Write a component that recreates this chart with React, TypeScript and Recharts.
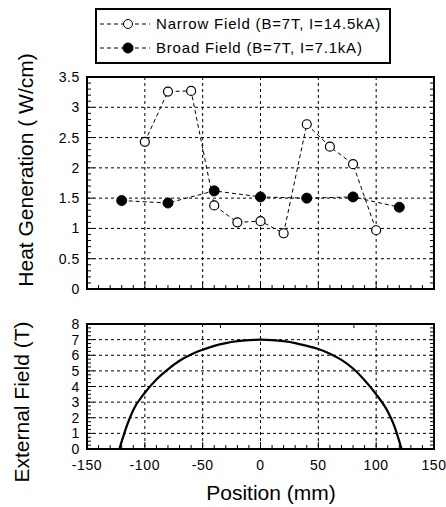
import { LineChart, Line, XAxis, YAxis, CartesianGrid, Legend, ReferenceArea } from "recharts";

const FONT = '"Liberation Sans", Arial, Helvetica, sans-serif';

// positions (mm) and heat generation (W/cm)
const narrowPos = [-100, -80, -60, -40, -20, 0, 20, 40, 60, 80, 100];
const narrowHeat = [2.43, 3.26, 3.27, 1.38, 1.1, 1.12, 0.92, 2.72, 2.35, 2.06, 0.97];
const broadPos = [-120, -80, -40, 0, 40, 80, 120];
const broadHeat = [1.46, 1.42, 1.62, 1.52, 1.5, 1.52, 1.35];

// external field profile (T)
const fieldPos = [-122, -115, -110, -100, -90, -80, -70, -60, -50, -40, -30, -20, -10, 0, 10, 20, 30, 40, 50, 60, 70, 80, 90, 100, 110, 115, 122];
const fieldVal = [0, 1.6, 2.5, 3.6, 4.45, 5.1, 5.65, 6.05, 6.35, 6.6, 6.78, 6.9, 6.97, 7.0, 6.97, 6.9, 6.78, 6.6, 6.4, 6.1, 5.7, 5.15, 4.4, 3.5, 2.4, 1.6, 0];

const posTicks = [-150, -100, -50, 0, 50, 100, 150];
const heatTicks = [0, 0.5, 1, 1.5, 2, 2.5, 3, 3.5];
const fieldTicks = [0, 1, 2, 3, 4, 5, 6, 7, 8];

const narrowData = narrowPos.map((x, i) => ({ x, q: narrowHeat[i] }));
const broadData = broadPos.map((x, i) => ({ x, q: broadHeat[i] }));
const fieldData = fieldPos.map((x, i) => ({ x, b: fieldVal[i] }));

// minor tick positions
const steps = (from: number, to: number, step: number) => {
  const out: number[] = [];
  for (let v = from; v <= to + 1e-9; v += step) out.push(Math.round(v * 1000) / 1000);
  return out;
};
const posMinor = steps(-150, 150, 10);
const heatMinor = steps(0, 3.5, 0.1);
const fieldMinor = steps(0, 8, 0.25);

const tickFont = { fill: "#000", fontSize: 14, fontFamily: FONT, letterSpacing: 0.6 };
const minorLine = { stroke: "#000", strokeWidth: 1 };
const noLabel = () => <g />;

// left axis: inward tick marks, labels only on the major values
const leftTick = (majors: number[]) => (props: any) => {
  const { x, y, payload } = props;
  const edge = x + 7;
  const major = majors.includes(payload.value);
  return (
    <g>
      <line x1={edge} x2={edge + (major ? 7 : 4)} y1={y} y2={y} stroke="#000" />
      {major && (
        <text x={x} y={y} dy="0.36em" textAnchor="end" {...tickFont}>
          {payload.value}
        </text>
      )}
    </g>
  );
};

// bottom axis: inward tick marks, labels optional
const bottomTick = (majors: number[], gap: number, labels: boolean) => (props: any) => {
  const { x, y, payload } = props;
  const edge = y - gap;
  const major = majors.includes(payload.value);
  return (
    <g>
      <line x1={x} x2={x} y1={edge} y2={edge - (major ? 7 : 4)} stroke="#000" />
      {labels && major && (
        <text x={x} y={y} dy="0.71em" textAnchor="middle" {...tickFont}>
          {payload.value}
        </text>
      )}
    </g>
  );
};

const LegendBox = () => (
  <div
    style={{
      border: "2px solid #000",
      background: "#fff",
      padding: "2px 0 2px 1px",
      fontFamily: FONT,
      fontSize: 15,
      letterSpacing: 0.8,
      lineHeight: "24px",
      color: "#000",
      boxSizing: "border-box",
    }}
  >
    <div style={{ display: "flex", alignItems: "center" }}>
      <svg width={54} height={14}>
        <line x1={2} y1={7} x2={52} y2={7} stroke="#000" strokeDasharray="4 3" />
        <circle cx={30} cy={7} r={4.5} fill="#fff" stroke="#000" />
      </svg>
      <span style={{ marginLeft: 4 }}>Narrow Field (B=7T, I=14.5kA)</span>
    </div>
    <div style={{ display: "flex", alignItems: "center" }}>
      <svg width={54} height={14}>
        <line x1={2} y1={7} x2={52} y2={7} stroke="#000" strokeDasharray="4 3" />
        <circle cx={30} cy={7} r={5} fill="#000" stroke="#000" />
      </svg>
      <span style={{ marginLeft: 4 }}>Broad Field (B=7T, I=7.1kA)</span>
    </div>
  </div>
);

const title = (text: string, x: number, y: number, rotate: boolean) => () =>
  (
    <text
      transform={`translate(${x},${y})${rotate ? " rotate(-90)" : ""}`}
      textAnchor="middle"
      fontSize={21}
      fontFamily={FONT}
      fill="#000"
    >
      {text}
    </text>
  );

export default function App() {
  return (
    <div style={{ position: "absolute", left: 0, top: 0, width: 446, height: 507, background: "#fff" }}>
      <div style={{ position: "absolute", left: 0, top: 0 }}>
        <LineChart width={446} height={300} margin={{ top: 77, right: 12, bottom: 10, left: 47 }}>
          <XAxis
            xAxisId="p"
            dataKey="x"
            type="number"
            domain={[-150, 150]}
            ticks={posMinor}
            interval={0}
            height={1}
            tick={bottomTick(posTicks, 4, false)}
            tickSize={4}
            tickMargin={0}
            tickLine={false}
            axisLine={false}
          />
          <XAxis xAxisId="mt" type="number" domain={[-150, 150]} allowDataOverflow ticks={posMinor} interval={0} orientation="top" mirror tick={noLabel} tickSize={4} tickLine={minorLine} axisLine={false} height={1} />
          <YAxis
            yAxisId="h"
            type="number"
            domain={[0, 3.5]}
            ticks={heatMinor}
            interval={0}
            width={40}
            tick={leftTick(heatTicks)}
            tickSize={4}
            tickMargin={3}
            tickLine={false}
            axisLine={false}
            label={{ content: title("Heat Generation ( W/cm)", 33, 170, true) }}
          />
          <YAxis yAxisId="mr" type="number" domain={[0, 3.5]} allowDataOverflow ticks={heatMinor} interval={0} orientation="right" mirror tick={noLabel} tickSize={4} tickLine={minorLine} axisLine={false} width={1} />
          <CartesianGrid
            xAxisId="p"
            yAxisId="h"
            stroke="#000"
            strokeDasharray="3 3"
            horizontalValues={heatTicks}
            verticalValues={posTicks}
          />
          <ReferenceArea xAxisId="p" yAxisId="h" x1={-150} x2={150} y1={0} y2={3.5} fill="none" stroke="#000" strokeWidth={2} />
          <Legend
            layout="horizontal"
            verticalAlign="middle"
            align="center"
            content={() => <LegendBox />}
            wrapperStyle={{ left: 95, top: 8, width: 296, height: 56 }}
          />
          <Line
            xAxisId="p"
            yAxisId="h"
            data={narrowData}
            dataKey="q"
            stroke="#000"
            strokeWidth={1}
            strokeDasharray="4 3"
            dot={{ r: 4.5, fill: "#fff", stroke: "#000", strokeWidth: 1.2, strokeDasharray: "" }}
            isAnimationActive={false}
          />
          <Line
            xAxisId="p"
            yAxisId="h"
            data={broadData}
            dataKey="q"
            stroke="#000"
            strokeWidth={1}
            strokeDasharray="4 3"
            dot={{ r: 5, fill: "#000", stroke: "#000", strokeDasharray: "" }}
            isAnimationActive={false}
          />
        </LineChart>
      </div>
      <div style={{ position: "absolute", left: 0, top: 300 }}>
        <LineChart width={446} height={207} data={fieldData} margin={{ top: 24, right: 12, bottom: 18, left: 47 }}>
          <XAxis
            xAxisId="p"
            dataKey="x"
            type="number"
            domain={[-150, 150]}
            ticks={posMinor}
            interval={0}
            height={40}
            tick={bottomTick(posTicks, 11, true)}
            tickSize={4}
            tickMargin={7}
            tickLine={false}
            axisLine={false}
            label={{ content: title("Position (mm)", 271, 200, false) }}
          />
          <XAxis xAxisId="mt" type="number" domain={[-150, 150]} allowDataOverflow ticks={posMinor} interval={0} orientation="top" mirror tick={noLabel} tickSize={4} tickLine={minorLine} axisLine={false} height={1} />
          <YAxis
            yAxisId="f"
            type="number"
            domain={[0, 8]}
            ticks={fieldMinor}
            interval={0}
            width={40}
            tick={leftTick(fieldTicks)}
            tickSize={4}
            tickMargin={3}
            tickLine={false}
            axisLine={false}
            label={{ content: title("External Field (T)", 29, 102, true) }}
          />
          <YAxis yAxisId="mr" type="number" domain={[0, 8]} allowDataOverflow ticks={fieldMinor} interval={0} orientation="right" mirror tick={noLabel} tickSize={4} tickLine={minorLine} axisLine={false} width={1} />
          <CartesianGrid
            xAxisId="p"
            yAxisId="f"
            stroke="#000"
            strokeDasharray="3 3"
            horizontalValues={fieldTicks}
            verticalValues={posTicks}
          />
          <ReferenceArea xAxisId="p" yAxisId="f" x1={-150} x2={150} y1={0} y2={8} fill="none" stroke="#000" strokeWidth={2} />
          <Line
            xAxisId="p"
            yAxisId="f"
            type="monotone"
            dataKey="b"
            stroke="#000"
            strokeWidth={2.2}
            dot={false}
            isAnimationActive={false}
          />
        </LineChart>
      </div>
    </div>
  );
}
